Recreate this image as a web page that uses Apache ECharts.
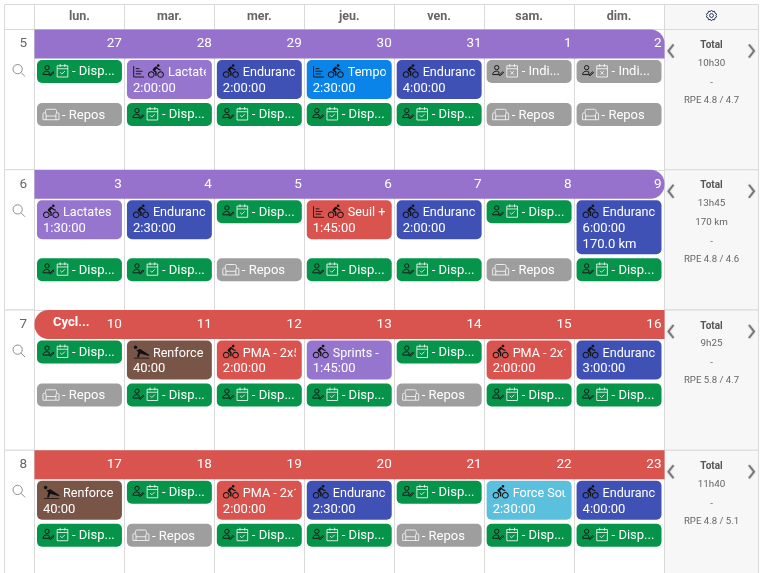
<!DOCTYPE html>
<html><head><meta charset="utf-8">
<style>html,body{margin:0;padding:0;background:#fff}#c{width:766px;height:573px}</style>
<script src="https://cdn.jsdelivr.net/npm/echarts@6/dist/echarts.min.js"></script>
</head><body><div id="c"></div>
<script>
const weekdays = ['lun.','mar.','mer.','jeu.','ven.','sam.','dim.'];
const weeks = ['5','6','7','8'];
const dates = [
  ['27','28','29','30','31','1','2'],
  ['3','4','5','6','7','8','9'],
  ['10','11','12','13','14','15','16'],
  ['17','18','19','20','21','22','23']
];
const bannerPhases = ['purple','purple','red','red'];
const bannerTitles = ['','','Cycl...',''];
const upperTitles = [
  ['Disp','Lactates','Endurance','Tempo','Endurance','Indi','Indi'],
  ['Lactates','Endurance','Disp','Seuil +','Endurance','Disp','Endurance'],
  ['Disp','Renforce','PMA - 2x5','Sprints -','Disp','PMA - 2x1','Endurance'],
  ['Renforce','Disp','PMA - 2x1','Endurance','Disp','Force Souplesse','Endurance']
];
const upperTimes = [
  ['','2:00:00','2:00:00','2:30:00','4:00:00','',''],
  ['1:30:00','2:30:00','','1:45:00','2:00:00','','6:00:00'],
  ['','40:00','2:00:00','1:45:00','','2:00:00','3:00:00'],
  ['40:00','','2:00:00','2:30:00','','2:30:00','4:00:00']
];
const upperDistances = [
  ['','','','','','',''],
  ['','','','','','','170.0 km'],
  ['','','','','','',''],
  ['','','','','','','']
];
const planned = ['0-1','0-3','1-3'];
const lowerTitles = [
  ['Repos','Disp','Disp','Disp','Disp','Repos','Repos'],
  ['Disp','Disp','Repos','Disp','Disp','Repos','Disp'],
  ['Repos','Disp','Disp','Disp','Repos','Disp','Disp'],
  ['Disp','Repos','Disp','Disp','Repos','Disp','Disp']
];
const totalTimes = ['10h30','13h45','9h25','11h40'];
const totalDistances = ['','170 km','',''];
const totalRpe = ['RPE 4.8 / 4.7','RPE 4.8 / 4.6','RPE 5.8 / 4.7','RPE 4.8 / 5.1'];

const FONT = 'Roboto, "Noto Sans", sans-serif';
const LINE = '#d9d9d9';
const TEXT_SIZE = 12.6;
const colors = {Disp:'#05944a',Indi:'#9e9e9e',Repos:'#9e9e9e',Lactates:'#9575cd',Endurance:'#3f51b5',Tempo:'#0a84e8',
  'Seuil':'#d9534f','PMA':'#d9534f',Sprints:'#9575cd',Renforce:'#795548',Force:'#5bc0de',purple:'#9672cc',red:'#d9534f'};
const ICON = {
  bike:'M15.5 5.5c1.1 0 2-.9 2-2s-.9-2-2-2-2 .9-2 2 .9 2 2 2zM5 12c-2.8 0-5 2.2-5 5s2.2 5 5 5 5-2.2 5-5-2.2-5-5-5zm0 8.5c-1.9 0-3.5-1.6-3.5-3.5s1.6-3.5 3.5-3.5 3.5 1.6 3.5 3.5-1.6 3.5-3.5 3.5zm5.8-10l2.4-2.4.8.8c1.3 1.3 3 2.1 5.1 2.1V9c-1.5 0-2.7-.6-3.6-1.5l-1.9-1.9c-.5-.4-1-.6-1.6-.6s-1.1.2-1.4.6L7.8 8.4c-.4.4-.6.9-.6 1.4 0 .6.2 1.1.6 1.4L11 14v5h2v-6.2l-2.2-2.3zM19 12c-2.8 0-5 2.2-5 5s2.2 5 5 5 5-2.2 5-5-2.2-5-5-5zm0 8.5c-1.9 0-3.5-1.6-3.5-3.5s1.6-3.5 3.5-3.5 3.5 1.6 3.5 3.5-1.6 3.5-3.5 3.5z',
  list:'M3 1v21h20M7 6h7M7 11h13M7 16h10',
  user:'M5 6.5a4.5 4.5 0 1 0 9 0a4.5 4.5 0 1 0-9 0zM1 21c0-4 3-7 8-7 2 0 3.5.5 5 1.5v5.5zM15 22l7-7 2 2-7 6h-2z',
  cal:'M3 4h18v19H3zM3 9h18M8 1v5M16 1v5M8 15l3 3 5-5',
  calx:'M3 4h18v19H3zM3 9h18M8 1v5M16 1v5M9 13l6 6M15 13l-6 6',
  sofa:'M5 9V6c0-2 1-3 3-3h12c2 0 3 1 3 3v3M2 9h2c1 0 2 1 2 2v3h16v-3c0-1 1-2 2-2h2c1 0 1 1 1 2v9H1v-9c0-1 0-2 1-2zM6 14v6M22 14v6',
  push:'M0 3.5a2.8 2.8 0 1 0 5.6 0a2.8 2.8 0 1 0-5.6 0zM4 8l6-2 14 9v2l-14-4-2 6H5l2-8zM0 20h24v1H0z',
  gear:'M12 2l2 3 3.5-.8.8 3.5 3.2 1.8-1.5 2.5 1.5 2.5-3.2 1.8-.8 3.5-3.5-.8-2 3-2-3-3.5.8-.8-3.5L2.5 14.500 4 12 2.500 9.500l3.2-1.800.8-3.500 3.500.8zM8.500 12a3.500 3.500 0 1 0 7 0a3.500 3.500 0 1 0-7 0z',
  search:'M1 9.500a8.500 8.500 0 1 0 17 0a8.500 8.500 0 1 0-17 0zM15.500 15.500L23 23',
  left:'M9 1L2 10l7 9',
  right:'M1 1l7 9-7 9'
};
function icon(name,x,y,w,h,style){
  return {type:'path',shape:{pathData:ICON[name],x:x,y:y,width:w,height:h,layout:'center'},style:style};
}
const inkStroke={fill:'none',stroke:'#1a1a1a',lineWidth:1};
const lightStroke={fill:'none',stroke:'rgba(255,255,255,.8)',lineWidth:1};
function label(text,x,y,size,color,weight,align){
  return {type:'text',style:{text:text,x:x,y:y,fill:color,font:(weight||'normal')+' '+size+'px '+FONT,
    textAlign:align||'left',textVerticalAlign:'middle',align:align||'left',verticalAlign:'middle'}};
}
function cell(api,d,w){
  const c=api.coord([d,w]), s=api.size([1,1]);
  return {left:c[0]-s[0]/2,top:c[1]-s[1]/2,width:s[0],height:s[1]};
}

// --- flattened rows built from the arrays above
const dayRows=[], cardRows=[], weekRows=weeks.map((n,w)=>[0,w]);
weeks.forEach((n,w)=>weekdays.forEach((_,d)=>{
  dayRows.push([d,w]);
  cardRows.push([d,w,0]);
  cardRows.push([d,w,1]);
}));
function cardHeight(w,d){
  if(upperDistances[w][d]) return 54;
  return upperTimes[w][d]?39:23;
}
function slotHeight(w){ return Math.max.apply(null,weekdays.map((_,d)=>cardHeight(w,d))); }
function colorFor(title){ return colors[title]||colors[title.split(/[ ]/)[0]]; }

function renderFrame(params,api){
  const w=api.value(1), b=cell(api,0,w);
  const colL=4.5, rightL=664.5, rightR=758.5;
  const rowLine={stroke:LINE,lineWidth:1,fill:'none'};
  const ch=[
    {type:'rect',shape:{x:rightL,y:b.top,width:rightR-rightL,height:b.height},style:{fill:'#f7f7f7',stroke:LINE,lineWidth:1}},
    {type:'rect',shape:{x:colL,y:b.top,width:b.left-colL,height:b.height},style:{fill:'#fff',stroke:LINE,lineWidth:1}},
    label(weeks[w],19.5,b.top+14.5,13.5,'#666'),
    icon('search',13,b.top+35,12,12,{fill:'none',stroke:'#8f8f8f',lineWidth:1}),
    icon('left',667.500,b.top+15,7,13,{fill:'none',stroke:'#777',lineWidth:2,shadowColor:'rgba(0,0,0,.25)',shadowBlur:2}),
    icon('right',748,b.top+15,7,13,{fill:'none',stroke:'#777',lineWidth:2,shadowColor:'rgba(0,0,0,.25)',shadowBlur:2}),
    label('Total',711.500,b.top+16,10,'#555','bold','center'),
    label(totalTimes[w],711.500,b.top+34,9.8,'#666','normal','center')
  ];
  let offs=[53,71];
  if(totalDistances[w]){ ch.push(label(totalDistances[w],711.500,b.top+53,9.8,'#666','normal','center')); offs=[71.5,90]; }
  ch.push(label('-',711.500,b.top+offs[0],9.8,'#666','normal','center'));
  ch.push(label(totalRpe[w],711.500,b.top+offs[1],9.6,'#666','normal','center'));
  if(w===0){
    ch.push({type:'rect',shape:{x:colL,y:4.5,width:rightR-colL,height:25},style:rowLine});
    ch.push({type:'rect',shape:{x:rightL,y:4.5,width:rightR-rightL,height:25},style:{fill:'#f7f7f7',stroke:LINE,lineWidth:1}});
    ch.push({type:'line',shape:{x1:b.left,y1:4.5,x2:b.left,y2:29.5},style:rowLine});
    ch.push(icon('gear',706,10,11,11,{fill:'none',stroke:'#2b3a55',lineWidth:1}));
  }
  return {type:'group',children:ch};
}
function renderBanner(params,api){
  const w=api.value(1), b=cell(api,0,w), H=29;
  const radius=[[0,14,0,0],[0,14,14,0],[14,0,0,14],[0,0,0,0]][w];
  const ch=[{type:'rect',shape:{x:b.left,y:b.top,width:664.500-b.left,height:H,r:radius},style:{fill:colors[bannerPhases[w]]}}];
  if(bannerTitles[w]) ch.push(label(bannerTitles[w],b.left+18.500,b.top+12.500,13,'#fff','bold'));
  return {type:'group',children:ch};
}
function renderDate(params,api){
  const d=api.value(0), w=api.value(1), b=cell(api,d,w);
  return label(dates[w][d],b.left+b.width-2.500,b.top+14.5,13.5,'#fff','normal','right');
}
function renderCard(params,api){
  const r=cardRows[params.dataIndex], d=r[0], w=r[1], slot=r[2], b=cell(api,d,w);
  const title=slot?lowerTitles[w][d]:upperTitles[w][d];
  const x=b.left+2.500, wd=b.width-5, y=b.top+30.500+(slot?slotHeight(w)+4:0);
  const compact=title==='Disp'||title==='Indi'||title==='Repos';
  const h=compact?23:cardHeight(w,d);
  const ch=[{type:'rect',shape:{x:x,y:y,width:wd,height:h,r:5},style:{fill:colorFor(title)}}];
  if(title==='Repos'){
    ch.push(icon('sofa',x+6,y+6,16,11,lightStroke));
    ch.push(label('- Repos',x+25,y+12.5,TEXT_SIZE+0.4,'#fff'));
  }else if(compact){
    ch.push(icon('user',x+6,y+5,11,11,inkStroke));
    ch.push(icon(title==='Disp'?'cal':'calx',x+20,y+4,11,13,lightStroke));
    ch.push(label('- '+title+'...',x+35,y+12,TEXT_SIZE+0.4,'#fff'));
  }else{
    let ix=x+6;
    if(planned.indexOf(w+'-'+d)>=0){ ch.push(icon('list',ix,y+6,12,11,inkStroke)); ix+=15; }
    if(title==='Renforce'){ ch.push(icon('push',ix,y+5,17,13,{fill:'#111'})); }
    else{ ch.push(icon('bike',ix,y+4,16,14,{fill:'#111'})); }
    const lines=[label(title,ix+20,y+13,TEXT_SIZE,'#fff')];
    if(upperTimes[w][d]) lines.push(label(upperTimes[w][d],x+6,y+28.5,TEXT_SIZE+0.4,'#fff'));
    if(upperDistances[w][d]) lines.push(label(upperDistances[w][d],x+6,y+44.5,TEXT_SIZE+0.4,'#fff'));
    ch.push({type:'group',children:lines,clipPath:{type:'rect',shape:{x:x,y:y,width:wd-6,height:h}}});
  }
  return {type:'group',children:ch};
}

const chart=echarts.init(document.getElementById('c'),null,{renderer:'canvas'});
chart.setOption({
  animation:false,
  backgroundColor:'#fff',
  grid:{left:34.5,top:29.5,width:629.5,height:561,containLabel:false,outerBoundsMode:'none'},
  xAxis:{type:'category',position:'top',data:weekdays,
    axisLine:{lineStyle:{color:LINE}},
    axisTick:{show:true,length:25,lineStyle:{color:LINE}},
    axisLabel:{color:'#666',fontFamily:FONT,fontWeight:'bold',fontSize:12.5,margin:6},
    splitLine:{show:true,lineStyle:{color:LINE}}},
  yAxis:{type:'category',inverse:true,data:weeks,axisLine:{show:false},axisTick:{show:false},axisLabel:{show:false},
    splitLine:{show:true,lineStyle:{color:LINE}}},
  series:[
    {type:'custom',name:'frame',data:weekRows,renderItem:renderFrame,z:1,silent:true,encode:{x:0,y:1}},
    {type:'custom',name:'banner',data:weekRows,renderItem:renderBanner,z:3,silent:true,encode:{x:0,y:1}},
    {type:'custom',name:'dates',data:dayRows,renderItem:renderDate,z:4,silent:true,encode:{x:0,y:1}},
    {type:'custom',name:'cards',data:cardRows.map(r=>[r[0],r[1]]),renderItem:renderCard,z:5,silent:true,encode:{x:0,y:1}}
  ]
});
</script></body></html>
